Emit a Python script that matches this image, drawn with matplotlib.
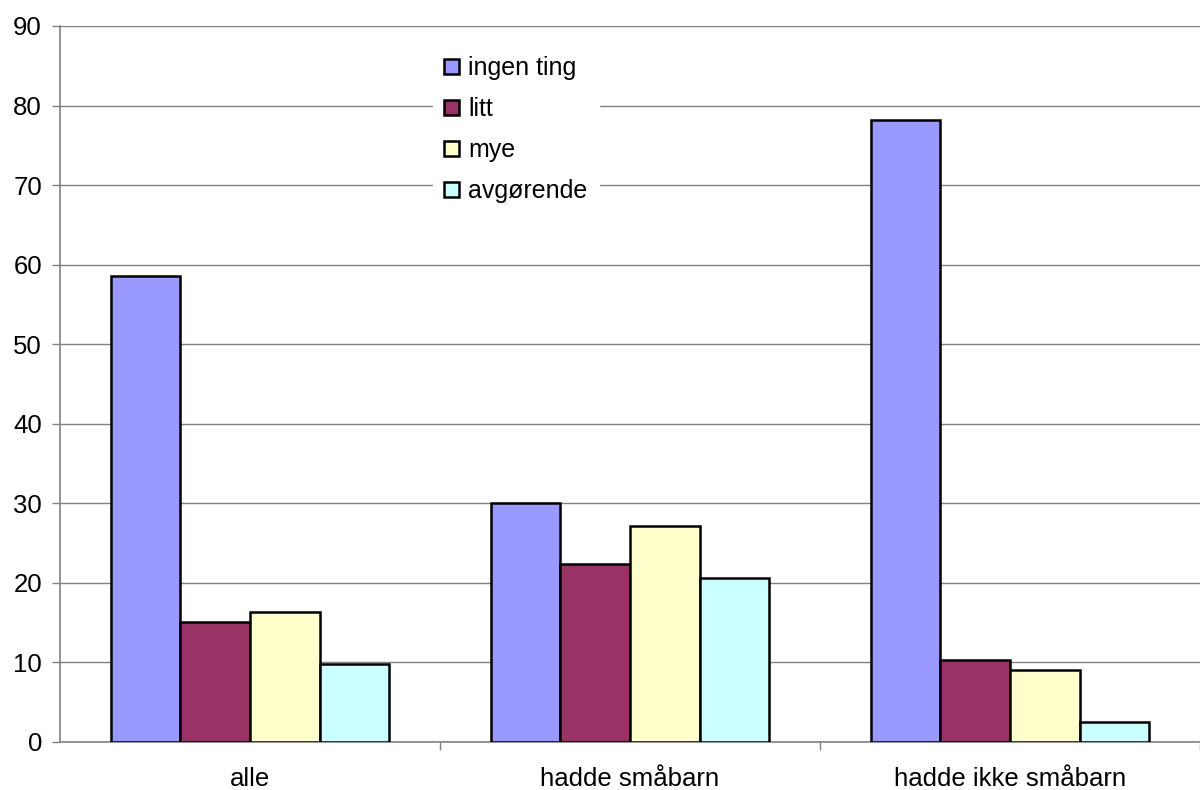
import numpy as np
import matplotlib
matplotlib.use('Agg')
import matplotlib.pyplot as plt
from matplotlib.ticker import FixedLocator

plt.rcParams['font.family'] = ['Liberation Sans', 'DejaVu Sans']

categories = ['alle', 'hadde småbarn', 'hadde ikke småbarn']
series = ['ingen ting', 'litt', 'mye', 'avgørende']
ingen_ting = [58.6, 30.0, 78.2]
litt = [15.1, 22.4, 10.3]
mye = [16.3, 27.2, 9.1]
avgorende = [9.8, 20.6, 2.5]
colors = ['#9999FF', '#993366', '#FFFFCC', '#CCFFFF']

fig = plt.figure(figsize=(12, 7.9), dpi=100)
ax = fig.add_axes([0.05, 0.0608, 0.95, 0.9063])

x = np.arange(len(categories))
w = 0.183
for i, (vals, lab) in enumerate(zip([ingen_ting, litt, mye, avgorende], series)):
    ax.bar(x + (i - 1.5) * w, vals, width=w, color=colors[i], edgecolor='black',
           linewidth=1.8, label=lab, zorder=3)

ax.set_xlim(-0.5, 2.5)
ax.set_ylim(0, 90)
ax.set_yticks(np.arange(0, 91, 10))
ax.set_xticks(x)
ax.set_xticklabels(categories)
ax.xaxis.set_minor_locator(FixedLocator([0.5, 1.5, 2.5]))
ax.tick_params(axis='x', which='major', length=0, pad=18, labelsize=18.5)
ax.tick_params(axis='x', which='minor', length=6, width=1, color='#808080', direction='out')
ax.tick_params(axis='y', length=6, width=1, color='#808080', direction='out', pad=7, labelsize=18.5)
ax.grid(axis='y', color='#808080', linewidth=1, zorder=0)
ax.set_axisbelow(True)
for s in ['top', 'right']:
    ax.spines[s].set_visible(False)
for s in ['left', 'bottom']:
    ax.spines[s].set_color('#808080')
    ax.spines[s].set_linewidth(1.2)

leg = ax.legend(loc='upper left', bbox_to_anchor=(433 / 1200, 1 - 45 / 790), bbox_transform=fig.transFigure,
                frameon=True, facecolor='white', edgecolor='white', framealpha=1, fancybox=False,
                fontsize=18, handlelength=0.6, handleheight=0.6, handletextpad=0.36,
                labelspacing=0.68, borderpad=0.45, borderaxespad=0)
leg.set_zorder(5)

fig.savefig('out.png', dpi=100)
